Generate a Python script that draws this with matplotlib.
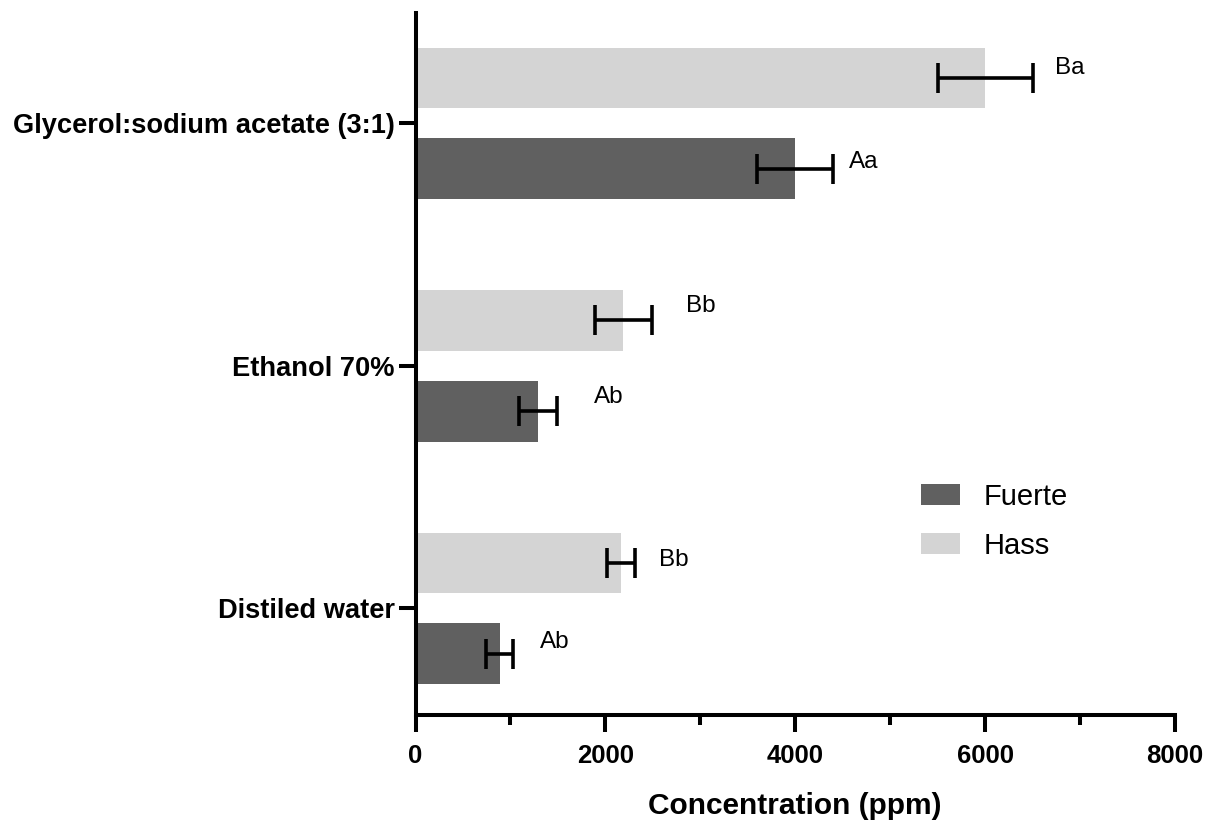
import matplotlib
matplotlib.use("Agg")
import matplotlib.pyplot as plt
from matplotlib.ticker import MultipleLocator
from matplotlib.patches import Patch
import numpy as np

plt.rcParams['font.family'] = ['Liberation Sans', 'DejaVu Sans']

# Extraction solvents (bottom to top on the axis)
solvents = ["Distiled water", "Ethanol 70%", "Glycerol:sodium acetate (3:1)"]

# Mean concentration (ppm) and error per avocado variety
fuerte_mean = [885, 1290, 4000]
fuerte_err = [145, 200, 400]
hass_mean = [2165, 2190, 6000]
hass_err = [145, 300, 500]

# Significance letters
fuerte_letters = ["Ab", "Ab", "Aa"]
hass_letters = ["Bb", "Bb", "Ba"]

# Letter placement (x in ppm, vertical shift in category units)
fuerte_label_x = [1312, 1881, 4568]
fuerte_label_dy = [0.05, 0.06, 0.03]
hass_label_x = [2563, 2851, 6739]
hass_label_dy = [0.01, 0.06, 0.04]

fuerte_color = "#606060"
hass_color = "#d4d4d4"

fig = plt.figure(figsize=(12.05, 8.24), dpi=100)
ax = fig.add_axes([415.5 / 1205, (824 - 715) / 824,
                   (1175 - 415.5) / 1205, (715 - 13) / 824])

y = np.arange(len(solvents))
h = 0.25
off = 0.1875

lw = 2.6
ekw = dict(elinewidth=lw, capthick=lw, ecolor="black")
ax.barh(y - off, fuerte_mean, height=h, color=fuerte_color,
        xerr=fuerte_err, capsize=11, error_kw=ekw, zorder=2)
ax.barh(y + off, hass_mean, height=h, color=hass_color,
        xerr=hass_err, capsize=11, error_kw=ekw, zorder=2)

for i in range(len(solvents)):
    ax.text(fuerte_label_x[i], y[i] - off + fuerte_label_dy[i], fuerte_letters[i],
            fontsize=17.5, va="center", ha="left")
    ax.text(hass_label_x[i], y[i] + off + hass_label_dy[i], hass_letters[i],
            fontsize=17.5, va="center", ha="left")

ax.set_xlim(0, 8000)
ax.set_ylim(-0.44, 2.455)

ax.set_yticks(y)
ax.set_yticklabels(solvents, fontsize=19.6, fontweight="bold")
ax.xaxis.set_major_locator(MultipleLocator(2000))
ax.xaxis.set_minor_locator(MultipleLocator(1000))
ax.tick_params(axis="x", which="major", length=12, width=2.9, pad=9,
               labelsize=18.5)
ax.tick_params(axis="x", which="minor", length=7, width=2.9)
ax.tick_params(axis="y", which="major", length=12, width=2.9, pad=3)
for lab in ax.get_xticklabels():
    lab.set_fontweight("bold")

ax.set_xlabel("Concentration (ppm)", fontsize=21.5, fontweight="bold",
              labelpad=17)

for s in ["top", "right"]:
    ax.spines[s].set_visible(False)
for s in ["left", "bottom"]:
    ax.spines[s].set_linewidth(2.9)

handles = [Patch(facecolor=fuerte_color, label="Fuerte"),
           Patch(facecolor=hass_color, label="Hass")]
ax.legend(handles=handles, loc="upper left",
          bbox_to_anchor=((909 - 415.5) / (1175 - 415.5), (715 - 471) / (715 - 13)),
          frameon=False, fontsize=21, handlelength=1.35, handleheight=0.7,
          handletextpad=0.8, labelspacing=0.72, borderaxespad=0)

fig.savefig("out.png", dpi=100)
